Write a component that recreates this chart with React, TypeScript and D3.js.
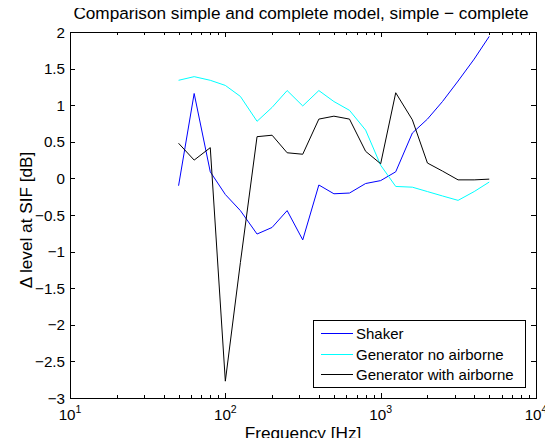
import React, { useEffect, useRef } from "react";
import * as d3 from "d3";

// third-octave band centre frequencies [Hz]
const freqs = [50, 63, 80, 100, 125, 160, 200, 250, 315, 400, 500, 630, 800, 1000, 1250, 1600, 2000, 2500, 3150, 4000, 5000];

const shaker = [-0.1, 1.16, 0.09, -0.22, -0.44, -0.76, -0.67, -0.44, -0.84, -0.09, -0.21, -0.2, -0.07, -0.03, 0.09, 0.62, 0.81, 1.05, 1.33, 1.63, 1.94];
const genNoAirborne = [1.34, 1.39, 1.34, 1.27, 1.12, 0.78, 0.97, 1.2, 0.99, 1.2, 1.05, 0.93, 0.66, 0.18, -0.11, -0.12, -0.18, -0.24, -0.3, -0.18, -0.05];
const genWithAirborne = [0.48, 0.25, 0.42, -2.77, -1.15, 0.57, 0.59, 0.35, 0.33, 0.81, 0.85, 0.81, 0.37, 0.2, 1.17, 0.8, 0.21, 0.1, -0.02, -0.02, -0.01];

const seriesNames = ["Shaker", "Generator no airborne", "Generator with airborne"];
const seriesColors = ["#0000ff", "#00ffff", "#000000"];

const yTicks = [-3, -2.5, -2, -1.5, -1, -0.5, 0, 0.5, 1, 1.5, 2];
const xDecades = [10, 100, 1000, 10000];

const App = () => {
  const svgRef = useRef<SVGSVGElement>(null);

  useEffect(() => {
    const svg = d3.select(svgRef.current);
    svg.selectAll("*").remove();

    const left = 70, right = 536, top = 32, bottom = 398;
    const font = "Liberation Sans, Arial, sans-serif";
    const tickSize = 15.2;
    const legendSize = 15;
    const labelSize = 17.2;

    const x = d3.scaleLog().domain([10, 10000]).range([left, right]);
    const y = d3.scaleLinear().domain([-3, 2]).range([bottom, top]);

    // minor ticks on log axis
    const minor: number[] = [];
    [10, 100, 1000].forEach((d) => {
      for (let k = 2; k <= 9; k++) minor.push(d * k);
    });

    const g = svg.append("g");

    // data lines
    const series = [shaker, genNoAirborne, genWithAirborne];
    const line = d3
      .line<number>()
      .x((_, i) => x(freqs[i]))
      .y((d) => y(d));

    series.forEach((s, i) => {
      g.append("path")
        .datum(s)
        .attr("fill", "none")
        .attr("stroke", seriesColors[i])
        .attr("stroke-width", 1)
        .attr("d", line);
    });

    // ticks (inward, all four sides)
    const ticks = g.append("g").attr("stroke", "#000").attr("stroke-width", 1);
    xDecades.forEach((d) => {
      const px = Math.round(x(d)) + 0.5;
      ticks.append("line").attr("x1", px).attr("x2", px).attr("y1", bottom).attr("y2", bottom - 5);
      ticks.append("line").attr("x1", px).attr("x2", px).attr("y1", top).attr("y2", top + 5);
    });
    minor.forEach((d) => {
      const px = Math.round(x(d)) + 0.5;
      ticks.append("line").attr("x1", px).attr("x2", px).attr("y1", bottom).attr("y2", bottom - 3);
      ticks.append("line").attr("x1", px).attr("x2", px).attr("y1", top).attr("y2", top + 3);
    });
    yTicks.forEach((d) => {
      const py = Math.round(y(d)) + 0.5;
      ticks.append("line").attr("x1", left).attr("x2", left + 5).attr("y1", py).attr("y2", py);
      ticks.append("line").attr("x1", right).attr("x2", right - 5).attr("y1", py).attr("y2", py);
    });

    // axes box
    g.append("rect")
      .attr("x", left + 0.5)
      .attr("y", top + 0.5)
      .attr("width", right - left)
      .attr("height", bottom - top)
      .attr("fill", "none")
      .attr("stroke", "#000");

    // y tick labels
    yTicks.forEach((d) => {
      g.append("text")
        .attr("x", left - 5)
        .attr("y", y(d) + 5.5)
        .attr("text-anchor", "end")
        .attr("font-family", font)
        .attr("font-size", tickSize)
        .text(d3.format("")(d).replace("-", "\u2212"));
    });

    // x tick labels 10^n
    xDecades.forEach((d) => {
      const t = g
        .append("text")
        .attr("x", x(d))
        .attr("y", bottom + 22)
        .attr("text-anchor", "middle")
        .attr("font-family", font)
        .attr("font-size", tickSize);
      t.append("tspan").text("10");
      t.append("tspan")
        .attr("font-size", 10.5)
        .attr("dy", -7)
        .text(String(Math.round(Math.log10(d))));
    });

    // axis labels & title
    g.append("text")
      .attr("x", (left + right) / 2)
      .attr("y", 439)
      .attr("text-anchor", "middle")
      .attr("font-family", font)
      .attr("font-size", labelSize)
      .text("Frequency [Hz]");

    g.append("text")
      .attr("transform", `translate(32,220) rotate(-90)`)
      .attr("text-anchor", "middle")
      .attr("font-family", font)
      .attr("font-size", labelSize)
      .text("\u0394 level at SIF [dB]");

    g.append("text")
      .attr("x", 301)
      .attr("y", 19)
      .attr("text-anchor", "middle")
      .attr("font-family", font)
      .attr("font-size", labelSize)
      .text("Comparison simple and complete model, simple \u2212 complete");

    // legend
    const lg = g.append("g");
    lg.append("rect")
      .attr("x", 313.5)
      .attr("y", 320.5)
      .attr("width", 212)
      .attr("height", 67)
      .attr("fill", "#fff")
      .attr("stroke", "#000");
    seriesNames.forEach((name, i) => {
      const ly = Math.round(333 + i * 20.5) + 0.5;
      lg.append("line")
        .attr("x1", 321)
        .attr("x2", 353)
        .attr("y1", ly)
        .attr("y2", ly)
        .attr("stroke", seriesColors[i])
        .attr("stroke-width", 1);
      lg.append("text")
        .attr("x", 356)
        .attr("y", ly + 5)
        .attr("font-family", font)
        .attr("font-size", legendSize)
        .text(name);
    });
  }, []);

  return (
    <div style={{ margin: -8 }}>
      <svg ref={svgRef} width={553} height={446} style={{ display: "block", background: "#fff" }}></svg>
    </div>
  );
};

export default App;
